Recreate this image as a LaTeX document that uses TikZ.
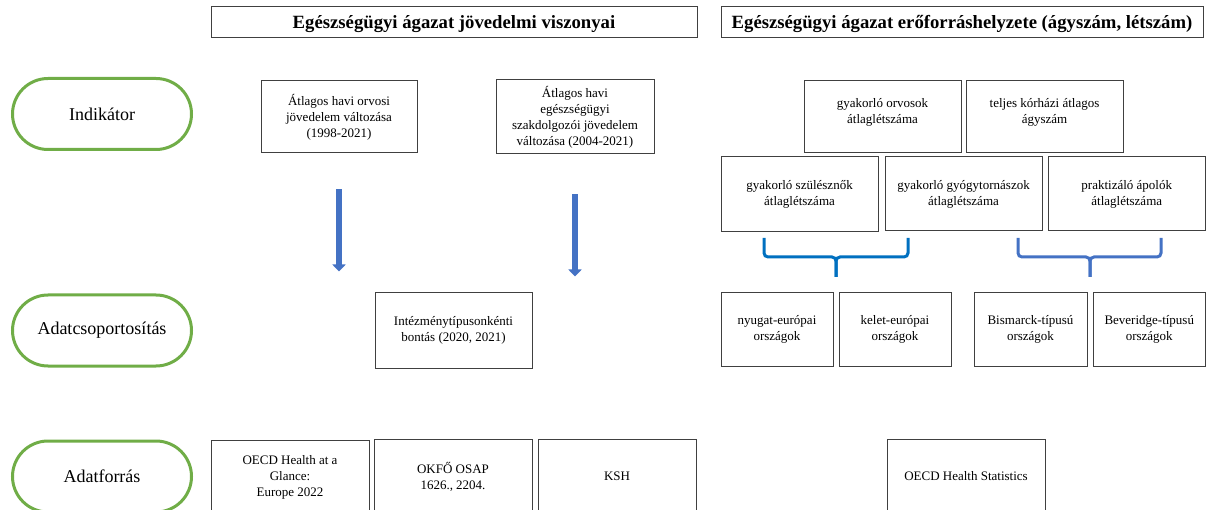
\documentclass[tikz,border=0pt]{standalone}
\usepackage{fontspec}
\setmainfont{Liberation Serif}
\usetikzlibrary{arrows.meta,calc}
\definecolor{pillgreen}{RGB}{112,173,71}
\definecolor{arrblue}{RGB}{68,114,196}
\definecolor{braceblue}{RGB}{0,112,192}
\newcommand{\bx}[6]{\node[box,minimum width={(#4-#2)*1pt},minimum height={(#5-#3)*1pt}] (#1) at ({(#2+#4)/2},{(#3+#5)/2}) {#6};}
\begin{document}
\begin{tikzpicture}[x=1pt,y=-1pt,
  box/.style={draw=black!75,line width=1pt,align=center,inner sep=2pt,font=\fontsize{13}{16}\selectfont},
  head/.style={box,text height=14pt,text depth=2pt,font=\bfseries\fontsize{18.7}{22}\selectfont},
  pill/.style={draw=pillgreen,line width=3pt,rounded corners=35.5pt,minimum width=179pt,minimum height=71pt,font=\fontsize{18}{22}\selectfont},
  arr/.style={draw=arrblue,line width=6pt,-{Triangle[width=13pt,length=7pt]}},
  bracel/.style={draw=braceblue,line width=3pt,rounded corners=4pt},
  bracer/.style={draw=arrblue,line width=3pt,rounded corners=4pt}]
\useasboundingbox (0,0) rectangle (1206,510);
\clip (0,0) rectangle (1206,510);
% headers
\node[head,minimum width=486pt,minimum height=31pt] (h1) at (454,22.5) {Egészségügyi ágazat jövedelmi viszonyai};
\node[head,minimum width=482pt,minimum height=31pt] (h2) at (962,22.5) {Egészségügyi ágazat erőforráshelyzete (ágyszám, létszám)};
% pills
\node[pill] (p1) at (102,114) {Indikátor};
\node[pill] (p2) at (102,330.5) {Adatcsoportosítás};
\node[pill] (p3) at (102,476.5) {Adatforrás};
% left column
\bx{b1}{261}{81}{417}{153}{Átlagos havi orvosi\\jövedelem változása\\(1998-2021)}
\bx{b2}{496}{80}{654}{154}{Átlagos havi\\egészségügyi\\szakdolgozói jövedelem\\változása (2004-2021)}
\bx{b3}{375}{293}{532}{368}{Intézménytípusonkénti\\bontás (2020, 2021)}
\bx{s1}{211}{440}{369}{514}{OECD Health at a\\Glance:\\Europe 2022}
\bx{s2}{374}{439}{532}{514}{OKFŐ OSAP\\1626., 2204.}
\bx{s3}{538}{439}{696}{514}{KSH}
% right column
\bx{r1}{804}{81}{961}{153}{gyakorló orvosok\\átlaglétszáma\\[-3pt]\mbox{}}
\bx{r2}{966}{81}{1123}{153}{teljes kórházi átlagos\\ágyszám\\[-3pt]\mbox{}}
\bx{r3}{721}{157}{878}{232}{gyakorló szülésznők\\átlaglétszáma}
\bx{r4}{885}{157}{1042}{231}{gyakorló gyógytornászok\\átlaglétszáma}
\bx{r5}{1048}{157}{1205.5}{231}{praktizáló ápolók\\átlaglétszáma}
\bx{c1}{721}{293}{833}{366}{nyugat-európai\\országok}
\bx{c2}{839}{293}{951}{366}{kelet-európai\\országok}
\bx{c3}{974}{293}{1087}{366}{Bismarck-típusú\\országok}
\bx{c4}{1093}{293}{1205.5}{366}{Beveridge-típusú\\országok}
\bx{s4}{887}{439}{1045}{514}{OECD Health Statistics}
% arrows
\coordinate (a1s) at ($(b1.south)+(0,36)$);
\coordinate (a1e) at ($(b1.south)+(0,118)$);
\coordinate (a2s) at ($(b2.south)+(0,40)$);
\coordinate (a2e) at ($(b2.south)+(0,122)$);
\draw[arr] (a1s) -- (a1e);
\draw[arr] (a2s) -- (a2e);
% braces
\coordinate (l1) at (764,238);
\coordinate (l2) at (908,238);
\coordinate (lt) at (836,277);
\coordinate (q1) at (1018,238);
\coordinate (q2) at (1161,238);
\coordinate (qt) at (1090,277);
\draw[bracel] (l1) -- (l1 |- 0,257) -- (lt |- 0,257) -- (lt);
\draw[bracel] (l2) -- (l2 |- 0,257) -- (lt |- 0,257) -- (lt);
\draw[bracer] (q1) -- (q1 |- 0,257) -- (qt |- 0,257) -- (qt);
\draw[bracer] (q2) -- (q2 |- 0,257) -- (qt |- 0,257) -- (qt);
\end{tikzpicture}
\end{document}
